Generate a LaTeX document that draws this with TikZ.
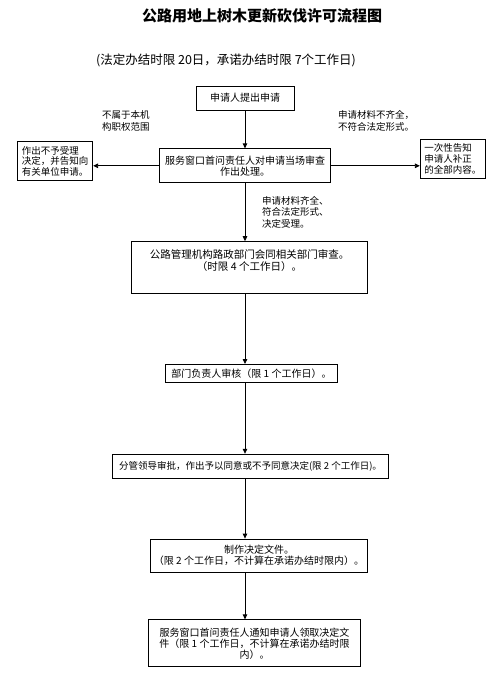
\documentclass[tikz,border=0pt]{standalone}
\usepackage{fontspec}
\setmainfont{Noto Sans CJK SC}
\usetikzlibrary{arrows.meta,positioning}

\begin{document}
\begin{tikzpicture}[
    x=1pt,y=-1pt,
    box/.style={draw=black,line width=0.8pt,inner sep=1pt,align=center,font=\fontsize{10}{11}\selectfont},
    lbl/.style={anchor=west,align=left,inner sep=0pt,font=\fontsize{9.5}{12}\selectfont},
    arrow/.style={-{Triangle[length=5pt,width=4.5pt]},line width=0.8pt}
  ]
    \useasboundingbox (0,0) rectangle (502,678);
    \node[font=\fontsize{15}{18}\selectfont\bfseries] (title) at (262,16) {公路用地上树木更新砍伐许可流程图};
    \node[font=\fontsize{12.5}{15}\selectfont] (limit) at (226,60) {(法定办结时限 20日，承诺办结时限 7个工作日)};

    \node[box,minimum width=98pt,minimum height=24pt] (apply) at (245,98) {申请人提出申请};
    \node[box,minimum width=171pt,minimum height=34pt,below=38pt of apply] (check) {服务窗口首问责任人对申请当场审查\\作出处理。};
    \node[box,align=left,minimum width=75pt,minimum height=39pt,left=66pt of check,yshift=4.5pt,font=\fontsize{9.5}{10.5}\selectfont] (reject) {作出不予受理\\决定，并告知向\\有关单位申请。};
    \node[box,align=left,minimum width=65pt,minimum height=39pt,right=89pt of check,yshift=6.5pt,font=\fontsize{9.5}{11}\selectfont] (notify) {一次性告知\\申请人补正\\的全部内容。};
    \node[box,minimum width=236pt,minimum height=52pt,below=58pt of check,xshift=4.5pt,font=\fontsize{10.5}{12}\selectfont] (review) {公路管理机构路政部门会同相关部门审查。\\（时限 4 个工作日）。\\[4pt]};
    \node[box,minimum width=172pt,minimum height=18pt,below=70pt of review,xshift=2pt] (head) {部门负责人审核（限 1 个工作日）。};
    \node[box,minimum width=276pt,minimum height=24pt,below=71pt of head,xshift=-1pt,font=\fontsize{9.5}{11}\selectfont] (leader) {分管领导审批，作出予以同意或不予同意决定(限 2 个工作日)。};
    \node[box,minimum width=217pt,minimum height=33pt,below=60pt of leader,xshift=8.5pt] (make) {制作决定文件。\\（限 2 个工作日，不计算在承诺办结时限内）。};
    \node[box,minimum width=212pt,minimum height=47pt,below=47pt of make,xshift=-4.5pt] (deliver) {服务窗口首问责任人通知申请人领取决定文\\件（限 1 个工作日，不计算在承诺办结时限\\内）。};

    % labels on the branches
    \node[lbl] (outside) at (102,121) {不属于本机\\构职权范围};
    \node[lbl] (missing) at (338,121) {申请材料不齐全，\\不符合法定形式。};
    \node[lbl,font=\fontsize{9.5}{11.5}\selectfont] (accepted) at (262,212) {申请材料齐全、\\符合法定形式、\\决定受理。};

    \draw[arrow] (apply.south) -- (apply.south |- check.north);
    \draw[arrow] (check.west) -- (check.west -| reject.east);
    \draw[arrow] (check.east) -- (check.east -| notify.west);
    \draw[arrow] (check.south -| apply) -- (review.north -| apply);
    \draw[arrow] (review.south -| apply) -- (head.north -| apply);
    \draw[arrow] (head.south -| apply) -- (leader.north -| apply);
    \draw[arrow] (leader.south -| apply) -- (make.north -| apply);
    \draw[arrow] (make.south -| apply) -- (deliver.north -| apply);
  \end{tikzpicture}
\end{document}
